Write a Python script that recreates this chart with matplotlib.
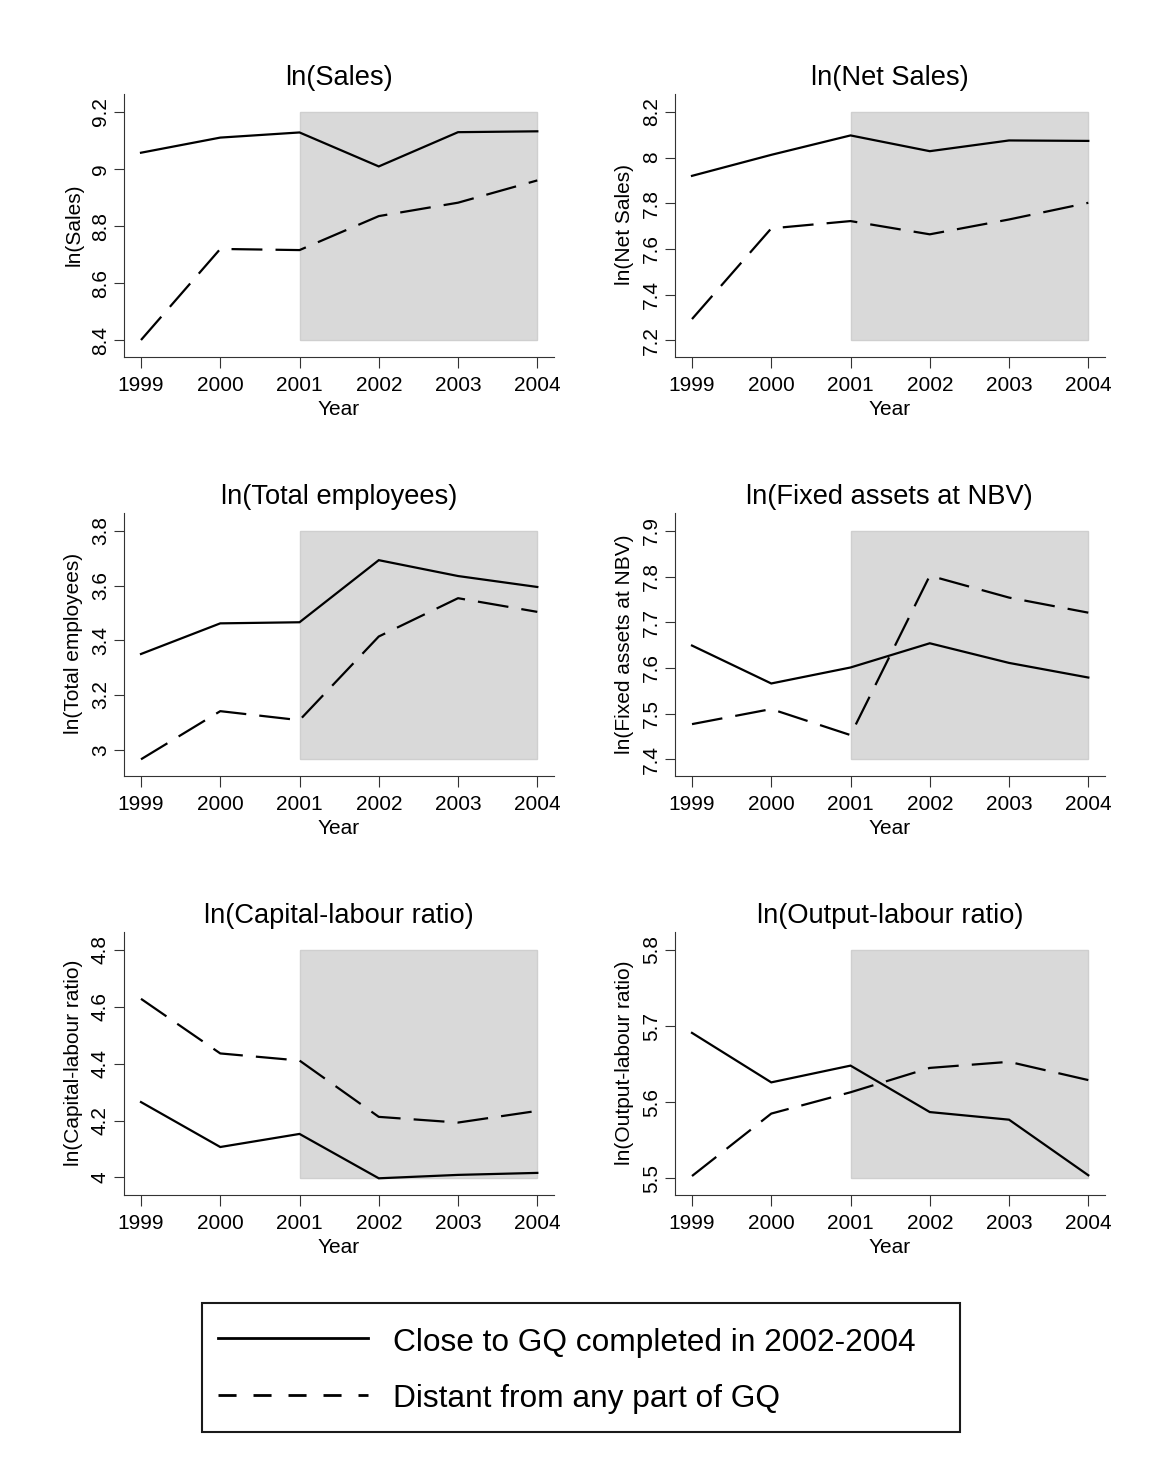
import matplotlib
matplotlib.use("Agg")
import matplotlib.pyplot as plt
from matplotlib.patches import Rectangle
from matplotlib.lines import Line2D

plt.rcParams["font.family"] = ["Liberation Sans", "DejaVu Sans"]

# ---------------------------------------------------------------- data
years = [1999, 2000, 2001, 2002, 2003, 2004]
treat_start, treat_end = 2001, 2004

titles = ["ln(Sales)", "ln(Net Sales)", "ln(Total employees)",
          "ln(Fixed assets at NBV)", "ln(Capital-labour ratio)",
          "ln(Output-labour ratio)"]

sales_close = [9.057, 9.110, 9.128, 9.009, 9.129, 9.132]
sales_distant = [8.401, 8.720, 8.716, 8.835, 8.882, 8.960]
sales_ticks = [8.4, 8.6, 8.8, 9.0, 9.2]

netsales_close = [7.920, 8.012, 8.097, 8.028, 8.075, 8.073]
netsales_distant = [7.293, 7.690, 7.722, 7.664, 7.729, 7.802]
netsales_ticks = [7.2, 7.4, 7.6, 7.8, 8.0, 8.2]

employees_close = [3.350, 3.462, 3.466, 3.693, 3.635, 3.595]
employees_distant = [2.965, 3.141, 3.108, 3.414, 3.554, 3.504]
employees_ticks = [3.0, 3.2, 3.4, 3.6, 3.8]

fixedassets_close = [7.649, 7.566, 7.601, 7.654, 7.611, 7.579]
fixedassets_distant = [7.477, 7.510, 7.453, 7.802, 7.754, 7.721]
fixedassets_ticks = [7.4, 7.5, 7.6, 7.7, 7.8, 7.9]

kl_close = [4.265, 4.107, 4.153, 3.997, 4.009, 4.016]
kl_distant = [4.628, 4.436, 4.411, 4.213, 4.193, 4.234]
kl_ticks = [4.0, 4.2, 4.4, 4.6, 4.8]

yl_close = [5.691, 5.626, 5.648, 5.587, 5.577, 5.504]
yl_distant = [5.503, 5.585, 5.613, 5.645, 5.653, 5.629]
yl_ticks = [5.5, 5.6, 5.7, 5.8]

legend_labels = ["Close to GQ completed in 2002-2004",
                 "Distant from any part of GQ"]

panels = [
    (titles[0], sales_close, sales_distant, sales_ticks),
    (titles[1], netsales_close, netsales_distant, netsales_ticks),
    (titles[2], employees_close, employees_distant, employees_ticks),
    (titles[3], fixedassets_close, fixedassets_distant, fixedassets_ticks),
    (titles[4], kl_close, kl_distant, kl_ticks),
    (titles[5], yl_close, yl_distant, yl_ticks),
]

# ---------------------------------------------------------------- layout (pixels)
W, H, DPI = 1155, 1466, 100
fig = plt.figure(figsize=(W / DPI, H / DPI), dpi=DPI)
fig.patch.set_facecolor("white")

col_x = [(124.0, 554.0), (675.0, 1104.6)]
col_first_last = [(141.0, 537.3), (692.0, 1088.3)]  # pixel of 1999 and 2004
row_y = [(94.3, 356.7), (513.3, 775.7), (932.3, 1194.7)]
row_step = 419.0
pad_top_px, pad_bot_px = 17.6, 16.4

AXIS_COLOR = "#333333"
TICK_FS = 15.0
TITLE_FS = 19.6
LINE_LW = 1.6
DASH = (13.9, 5.9)


def fx(x):
    return x / W


def fy(y):
    return 1 - y / H


for i, (title, close, distant, ticks) in enumerate(panels):
    r, c = divmod(i, 2)
    x0, x1 = col_x[c]
    y0, y1 = row_y[r]
    ax = fig.add_axes([fx(x0), fy(y1), (x1 - x0) / W, (y1 - y0) / H])
    ax.set_facecolor("none")

    # x scale: years mapped onto the pixel span of the axis
    p99, p04 = col_first_last[c]
    ppy = (p04 - p99) / (years[-1] - years[0])
    ax.set_xlim(years[0] - (p99 - x0) / ppy, years[-1] + (x1 - p04) / ppy)

    # y scale: plot region covers ticks and data, with padding around it
    lo = min(ticks[0], min(close), min(distant))
    hi = max(ticks[-1], max(close), max(distant))
    span_px = (y1 - y0) - pad_top_px - pad_bot_px
    upp = (hi - lo) / span_px
    ax.set_ylim(lo - pad_bot_px * upp, hi + pad_top_px * upp)

    # treatment period shading
    ax.add_patch(Rectangle((treat_start, lo), treat_end - treat_start, hi - lo,
                           facecolor="#d9d9d9", edgecolor="#cfcfcf",
                           linewidth=1.0, zorder=0.5))

    ax.plot(years, close, color="black", lw=LINE_LW, solid_joinstyle="miter",
            zorder=3)
    ax.plot(years, distant, color="black", lw=LINE_LW, linestyle=(0, DASH),
            zorder=3)

    for s in ("top", "right"):
        ax.spines[s].set_visible(False)
    for s in ("left", "bottom"):
        ax.spines[s].set_color(AXIS_COLOR)
        ax.spines[s].set_linewidth(0.8)

    ax.set_xticks(years)
    ax.set_xticklabels([str(y) for y in years], fontsize=TICK_FS)
    ax.set_yticks(ticks)
    ax.set_yticklabels(["%g" % t for t in ticks], fontsize=TICK_FS,
                       rotation=90, va="center")
    ax.tick_params(axis="x", length=7.8, width=0.8, color=AXIS_COLOR, pad=6.3)
    ax.tick_params(axis="y", length=7.3, width=0.8, color=AXIS_COLOR, pad=2.9)

    ax.set_xlabel("Year", fontsize=TICK_FS)
    ax.xaxis.set_label_coords(0.5, -(400.0 + row_step * r - y1) / (y1 - y0))
    ax.set_ylabel(title, fontsize=TICK_FS)
    ax.yaxis.set_label_coords(-40.7 / (x1 - x0),
                              (y1 - y0 - pad_bot_px - span_px / 2) / (y1 - y0))

    ax.text(0.5, (y1 - (85.0 + row_step * r)) / (y1 - y0), title,
            transform=ax.transAxes, ha="center", va="baseline",
            fontsize=TITLE_FS)

# ---------------------------------------------------------------- legend box
bx0, by0, bx1, by1 = 201.7, 1303.3, 960.0, 1431.7
fig.patches.append(Rectangle((fx(bx0), fy(by1)), (bx1 - bx0) / W, (by1 - by0) / H,
                             transform=fig.transFigure, facecolor="white",
                             edgecolor="#1a1a1a", linewidth=1.5))
fig.lines.append(Line2D([fx(218.3), fx(368.3)], [fy(1338.3), fy(1338.3)],
                        transform=fig.transFigure, color="black", lw=2.0))
fig.lines.append(Line2D([fx(218.3), fx(368.3)], [fy(1395.0), fy(1395.0)],
                        transform=fig.transFigure, color="black", lw=2.0,
                        linestyle=(0, (6.5, 6.1))))
fig.text(fx(393.0), fy(1351.3), legend_labels[0], fontsize=22.8,
         ha="left", va="baseline")
fig.text(fx(393.0), fy(1406.7), legend_labels[1], fontsize=22.8,
         ha="left", va="baseline")

fig.savefig("out.png", dpi=DPI, facecolor="white")
